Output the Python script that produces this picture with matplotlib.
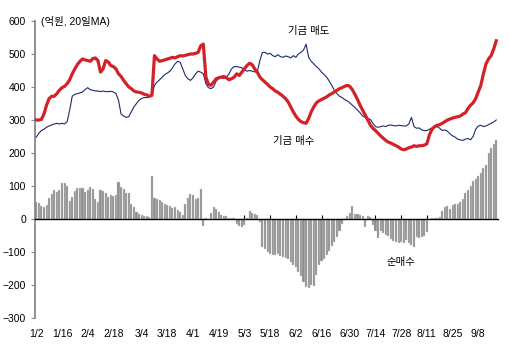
import numpy as np
import matplotlib
matplotlib.use('Agg')
from matplotlib import pyplot as plt

plt.rcParams['font.family'] = ['Liberation Sans', 'Noto Sans CJK KR', 'DejaVu Sans']

# 기금 매수 (20일 MA, 억원)
buy = [300, 300, 302, 318, 345, 365, 372, 372, 380, 390,
       398, 402, 410, 422, 440, 455, 468, 478, 485, 482,
       480, 478, 486, 488, 480, 445, 455, 480, 476, 465,
       462, 455, 440, 432, 420, 410, 400, 395, 388, 385,
       384, 382, 378, 376, 372, 375, 495, 485, 478, 480,
       482, 485, 487, 490, 488, 492, 495, 494, 496, 498,
       500, 500, 502, 505, 525, 530, 430, 408, 405, 415,
       425, 428, 430, 432, 428, 422, 425, 430, 440, 435,
       445, 455, 465, 472, 468, 455, 445, 430, 422, 415,
       408, 400, 395, 388, 384, 378, 372, 365, 355, 340,
       325, 312, 302, 295, 292, 290, 305, 325, 340, 352,
       358, 362, 366, 370, 376, 380, 385, 390, 395, 398,
       402, 405, 402, 392, 378, 362, 345, 330, 315, 300,
       285, 275, 268, 260, 252, 245, 238, 233, 230, 226,
       222, 218, 212, 210, 212, 216, 218, 222, 220, 222,
       222, 224, 228, 255, 272, 280, 284, 286, 290, 295,
       300, 303, 306, 308, 310, 312, 318, 322, 335, 345,
       352, 365, 385, 405, 440, 470, 485, 495, 515, 540]

# 기금 매도
sell = [248, 260, 268, 272, 278, 282, 285, 288, 290, 288,
        290, 288, 295, 330, 372, 378, 380, 382, 385, 392,
        398, 392, 390, 388, 388, 386, 388, 386, 386, 387,
        385, 380, 360, 318, 312, 308, 310, 325, 340, 350,
        360, 365, 368, 368, 370, 372, 405, 415, 422, 430,
        438, 442, 448, 458, 470, 478, 475, 455, 435, 425,
        420, 428, 440, 448, 445, 440, 410, 398, 395, 400,
        418, 425, 428, 426, 430, 440, 455, 462, 462, 460,
        458, 452, 448, 450, 448, 446, 445, 480, 505, 505,
        500, 502, 495, 492, 498, 492, 490, 494, 492, 488,
        495, 490, 500, 505, 512, 530, 490, 478, 470, 462,
        455, 445, 438, 430, 418, 405, 390, 380, 372, 368,
        362, 358, 352, 345, 338, 330, 322, 312, 308, 305,
        302, 290, 280, 278, 280, 282, 280, 284, 285, 283,
        282, 284, 283, 282, 282, 288, 308, 280, 275, 276,
        270, 268, 268, 272, 276, 278, 280, 275, 268, 270,
        266, 258, 252, 248, 242, 240, 238, 242, 244, 240,
        250, 272, 282, 284, 280, 282, 286, 290, 294, 300]

# 순매수
net = [52, 48, 40, 36, 42, 65, 75, 88, 82, 88,
       110, 108, 100, 55, 68, 85, 95, 95, 95, 82,
       88, 98, 92, 60, 52, 88, 85, 80, 68, 72,
       70, 72, 112, 98, 90, 78, 80, 45, 36, 20,
       15, 12, 10, 8, 5, 130, 65, 62, 58, 52,
       45, 42, 40, 32, 35, 28, 20, 12, 45, 65,
       75, 72, 62, 65, 90, -22, 2, 0, 18, 35,
       30, 22, 12, 10, 8, 3, 2, 2, -15, -20,
       -25, -18, 2, 25, 18, 15, 12, -10, -84, -92,
       -100, -105, -108, -110, -105, -112, -116, -118, -122, -130,
       -138, -145, -160, -172, -190, -205, -208, -200, -203, -170,
       -140, -128, -120, -110, -98, -82, -70, -55, -35, -15,
       -3, 10, 18, 40, 15, 15, 12, 8, -25, 10,
       5, -18, -35, -58, -35, -42, -48, -52, -62, -68,
       -70, -72, -70, -72, -65, -72, -78, -86, -55, -58,
       -55, -50, -40, 0, 2, 2, 3, 5, 25, 35,
       40, 30, 42, 45, 45, 52, 62, 80, 88, 100,
       115, 122, 130, 140, 155, 165, 200, 215, 228, 238]

tick_pos = [0, 10, 20, 30, 41, 51, 61, 71, 81, 91, 101, 111, 122, 132, 142, 152, 162, 172]
tick_lab = ['1/2', '1/16', '2/4', '2/18', '3/4', '3/18', '4/1', '4/19', '5/3',
            '5/18', '6/2', '6/16', '6/30', '7/14', '7/28', '8/11', '8/25', '9/8']

x = np.arange(len(buy))

fig = plt.figure(figsize=(5.1, 3.52), dpi=100)
ax = fig.add_axes([0.0686, 0.0966, 0.912, 0.8437])

ax.bar(x, net, width=0.8, color='#8c8c8c', edgecolor='#d2d2d2', linewidth=0.3, zorder=2)
ax.plot(x, sell, color='#1c2a6a', lw=0.8, zorder=3)
ax.plot(x, buy, color='#d42027', lw=2.3, zorder=4)

ax.set_xlim(-0.5, 180.5)
ax.set_ylim(-300, 600)
ax.set_yticks(range(-300, 601, 100))

for s in ['top', 'right']:
    ax.spines[s].set_visible(False)
ax.spines['left'].set_color('#888888')
ax.spines['left'].set_linewidth(1.3)
ax.spines['bottom'].set_position(('data', 0))
ax.spines['bottom'].set_color('black')
ax.spines['bottom'].set_linewidth(1.0)
ax.spines['bottom'].set_bounds(-0.5, 179.5)
ax.spines['bottom'].set_zorder(5)

ax.set_xticks(tick_pos)
ax.set_xticklabels(tick_lab)
ax.tick_params(axis='x', direction='in', length=3, width=0.8, pad=79, labelsize=7.5)
ax.tick_params(axis='y', direction='out', length=3, width=0.8, color='#888888', labelsize=7.5)

ax.text(2, 600, '(억원, 20일MA)', fontsize=7.5, va='center', ha='left')
ax.text(106, 570, '기금 매도', fontsize=7.5, ha='center', va='center')
ax.text(100, 236, '기금 매수', fontsize=7.5, ha='center', va='center')
ax.text(142, -130, '순매수', fontsize=7.5, ha='center', va='center')

fig.savefig('out.png', dpi=100)
